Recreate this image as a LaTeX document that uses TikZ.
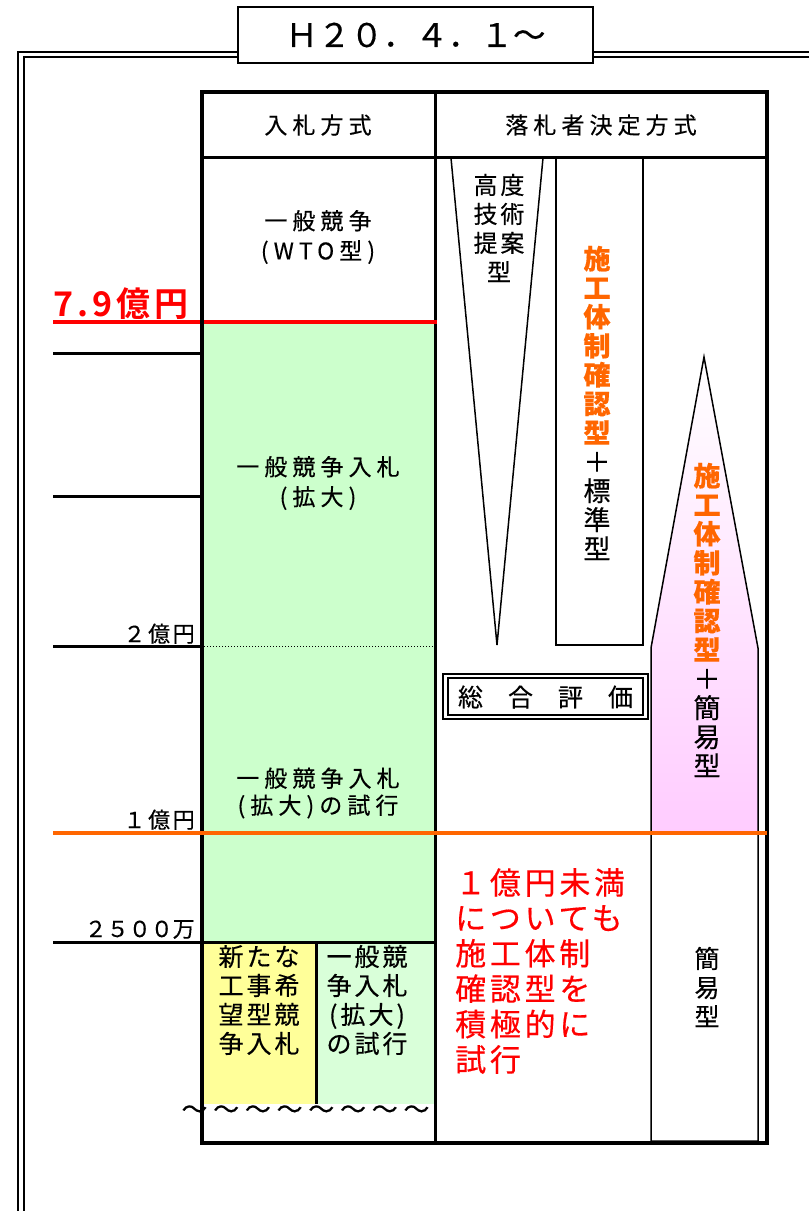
\documentclass[tikz,border=0pt]{standalone}
\usepackage{fontspec}
\setmainfont{Noto Sans CJK JP}
\newfontfamily\jpn[FakeBold=0.35]{Noto Sans CJK JP}
\newfontfamily\jpt[LetterSpace=22,FakeBold=0.35]{Noto Sans CJK JP}
\newfontfamily\jps[LetterSpace=12,FakeBold=0.35]{Noto Sans CJK JP}
\newfontfamily\jpr[LetterSpace=12,FakeBold=0.35]{Noto Sans CJK JP}
\newfontfamily\jpb[LetterSpace=12]{Noto Sans CJK JP Bold}
\usetikzlibrary{shadings}
\definecolor{lgreen}{RGB}{204,255,204}
\definecolor{lgreentwo}{RGB}{217,255,217}
\definecolor{lyellow}{RGB}{255,255,153}
\definecolor{orng}{RGB}{255,102,0}
\definecolor{pinkb}{RGB}{255,204,255}
\newcommand\orch[1]{{\bfseries\color{orng}#1}}
\begin{document}
\begin{tikzpicture}[x=1pt,y=-1pt,
  txt/.style={inner sep=0pt, align=center},
  tick/.style={line width=3pt},
  shape line/.style={line width=1.5pt},
]
\useasboundingbox (0,0) rectangle (809,1211);
% outer frame
\draw[line width=1.6pt] (18,1215) -- (18,52) -- (815,52);
\draw[line width=1.6pt] (24,1215) -- (24,57) -- (815,57);
\node[draw, line width=1.2pt, fill=white, minimum width=355pt, minimum height=56pt, inner sep=0pt,
  font=\jpn\fontsize{32.5}{32}\selectfont] (title) at (415.5,35) {Ｈ２０．４．１～};
% fills
\fill[lgreen] (202,322) rectangle (435,942);
\fill[lyellow] (202,942) rectangle (316,1104);
\fill[lgreentwo] (316,942) rectangle (435,1104);
\fill[white] (208,1104) rectangle (432,1141);
% pentagon
\shade[top color=white, bottom color=pinkb] (704,357) -- (758,648) -- (758,833) -- (651,833) -- (651,648) -- cycle;
\draw[shape line] (704,357) -- (758,648) -- (758,1141) -- (651,1141) -- (651,648) -- cycle;
% triangle
\draw[shape line, fill=white] (451,158) -- (543,158) -- (497,645) -- cycle;
% standard box
\draw[shape line] (556,158) rectangle (643,645);
% sogo hyoka box
\draw[line width=2pt] (443,674) rectangle (648,719);
\draw[line width=2pt] (448,678) rectangle (643,715);
% ticks
\foreach \yy in {353,496,646,942} \draw[tick] (53,\yy) -- (202,\yy);
\draw[tick] (202,942) -- (435,942);
\draw[tick] (316,942) -- (316,1104);
\draw[dotted, line width=1pt] (204,646) -- (433,646);
% table
\draw[tick] (202,157) -- (767,157);
\draw[tick] (435,92) -- (435,1143);
\draw[red, line width=4pt] (53,322) -- (437,322);
\draw[line width=4pt] (202,92) rectangle (767,1143);
\draw[orng, line width=4pt] (53,833) -- (767,833);
% tildes
\node[txt, font=\jpt\fontsize{26}{26}\selectfont] (tildes) at (305.5,1112) {～～～～～～～～};
% texts
\node[txt, font=\jpt\fontsize{23}{23}\selectfont] (h1) at (318,125) {入札方式};
\node[txt, font=\jpt\fontsize{23}{23}\selectfont] (h2) at (601,125) {落札者決定方式};
\node[txt, font=\jpt\fontsize{23}{30}\selectfont] (wto) at (318,237) {一般競争\\(WTO型)};
\node[txt, font=\jpt\fontsize{23}{30}\selectfont] (kakudai) at (318,483) {一般競争入札\\(拡大)};
\node[txt, font=\jpt\fontsize{23}{27}\selectfont] (shiko) at (318,793) {一般競争入札\\(拡大)の試行};
\node[txt, font=\jps\fontsize{25}{29}\selectfont] (newtype) at (259,1000) {新たな\\工事希\\望型競\\争入札};
\node[txt, font=\jps\fontsize{25}{29}\selectfont] (trial) at (367,1000) {一般競\\争入札\\(拡大)\\の試行};
\node[txt, font=\jps\fontsize{24}{29}\selectfont] (kodo) at (499,228) {高度\\技術\\提案\\型};
\node[txt, font=\jpn\fontsize{27}{29}\selectfont] (sekou) at (597,403)
  {\orch{施}\\\orch{工}\\\orch{体}\\\orch{制}\\\orch{確}\\\orch{認}\\\orch{型}\\＋\\標\\準\\型};
\node[txt, font=\jpn\fontsize{27}{29}\selectfont] (sekoukan) at (707,620)
  {\orch{施}\\\orch{工}\\\orch{体}\\\orch{制}\\\orch{確}\\\orch{認}\\\orch{型}\\＋\\簡\\易\\型};
\node[txt, font=\jpn\fontsize{25}{29}\selectfont] (kan) at (707,987) {簡\\易\\型};
\node[txt, font=\jpn\fontsize{25}{25}\selectfont] (sogo) at (545.5,697) {総　合　評　価};
\node[inner sep=0pt, anchor=west, align=left, text=red, font=\jpr\fontsize{31}{35.4}\selectfont] (note) at (455,971)
  {１億円未満\\についても\\施工体制\\確認型を\\積極的に\\試行};
\node[inner sep=0pt, anchor=base east, font=\jps\fontsize{22}{22}\selectfont] (ltwo) at (195,642) {２億円};
\node[inner sep=0pt, anchor=base east, font=\jps\fontsize{22}{22}\selectfont] (lone) at (195,828) {１億円};
\node[inner sep=0pt, anchor=base east, font=\jpn\fontsize{22}{22}\selectfont] (lman) at (195,937) {２５００万};
\node[inner sep=0pt, anchor=base west, text=red, font=\jpb\fontsize{34}{34}\selectfont] (oku) at (53,316) {7.9億円};
\end{tikzpicture}
\end{document}
